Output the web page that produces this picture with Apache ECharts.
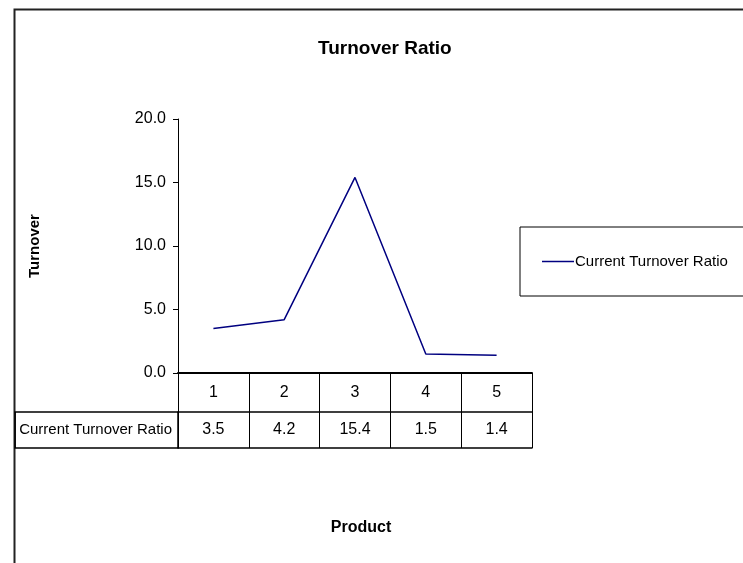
<!DOCTYPE html>
<html>
<head>
<meta charset="utf-8">
<script src="https://cdn.jsdelivr.net/npm/echarts@6/dist/echarts.min.js"></script>
<style>
  html, body { margin: 0; padding: 0; background: #fff; }
  #chart { width: 743px; height: 563px; }
</style>
</head>
<body>
<div id="chart"></div>
<script>
// chart data
const products = ['1', '2', '3', '4', '5'];
const turnoverRatio = [3.5, 4.2, 15.4, 1.5, 1.4];
const seriesName = 'Current Turnover Ratio';
const yTicks = { min: 0, max: 20, interval: 5 };

const font = 'Arial, "Liberation Sans", sans-serif';
const myChart = echarts.init(document.getElementById('chart'));

const option = {
    backgroundColor: '#fff',
    textStyle: { fontFamily: font, color: '#000' },
    title: {
        text: 'Turnover Ratio',
        left: 313,
        top: 34,
        textStyle: { fontFamily: font, fontSize: 19, fontWeight: 'bold', color: '#000' }
    },
    graphic: [
        {
            // outer chart frame
            type: 'rect',
            left: 12,
            top: 7,
            shape: { width: 800, height: 620 },
            style: { fill: 'none', stroke: '#222', lineWidth: 2 },
            silent: true
        }
    ],
    legend: {
        left: 520,
        top: 227,
        data: [seriesName],
        icon: 'rect',
        itemWidth: 32,
        itemHeight: 1.5,
        itemGap: 0,
        padding: [27, 60, 27, 22],
        borderColor: '#000',
        borderWidth: 1,
        borderRadius: 0,
        itemStyle: { color: '#000080' },
        textStyle: { fontFamily: font, fontSize: 15, color: '#000', padding: [0, 0, 0, -4] }
    },
    grid: {
        left: 178,
        right: 211,
        top: 119,
        bottom: 190
    },
    xAxis: [
        {
            // header row of the data table
            type: 'category',
            data: products,
            position: 'bottom',
            boundaryGap: true,
            axisLine: { lineStyle: { color: '#000', width: 2 } },
            axisTick: { show: true, length: 39, lineStyle: { color: '#000' } },
            axisLabel: { fontSize: 16, color: '#000', margin: 12 }
        },
        {
            // values row of the data table
            type: 'category',
            data: products,
            position: 'bottom',
            offset: 39,
            boundaryGap: true,
            axisLine: { lineStyle: { color: '#000', width: 1.5 } },
            axisTick: { show: true, length: 36, lineStyle: { color: '#000' } },
            axisLabel: {
                fontSize: 16,
                color: '#000',
                margin: 10,
                formatter: (v, i) => turnoverRatio[i].toFixed(1)
            },
            name: seriesName,
            nameLocation: 'start',
            nameGap: 0,
            nameTextStyle: {
                fontFamily: font,
                fontSize: 15,
                color: '#000',
                align: 'right',
                verticalAlign: 'top',
                width: 152,
                height: 36,
                lineHeight: 36,
                padding: [0, 6, 0, 4],
                borderColor: '#000',
                borderWidth: 1.5
            }
        },
        {
            // bottom line of the table + axis title
            type: 'category',
            data: products,
            position: 'bottom',
            offset: 75,
            axisLine: { lineStyle: { color: '#000', width: 1.5 } },
            axisTick: { show: false },
            axisLabel: { show: false },
            name: 'Product',
            nameLocation: 'middle',
            nameGap: 72,
            nameTextStyle: {
                fontFamily: font, fontSize: 16, fontWeight: 'bold', color: '#000',
                padding: [0, 0, 0, 12]
            }
        }
    ],
    yAxis: {
        type: 'value',
        min: yTicks.min,
        max: yTicks.max,
        interval: yTicks.interval,
        name: 'Turnover',
        nameLocation: 'middle',
        nameRotate: 90,
        nameGap: 136,
        nameTextStyle: { fontFamily: font, fontSize: 15, fontWeight: 'bold', color: '#000' },
        axisLine: { show: true, lineStyle: { color: '#000', width: 1 } },
        axisTick: { show: true, length: 5, lineStyle: { color: '#000' } },
        splitLine: { show: false },
        axisLabel: {
            fontSize: 16,
            color: '#000',
            margin: 12,
            formatter: v => v.toFixed(1)
        }
    },
    series: [
        {
            name: seriesName,
            type: 'line',
            xAxisIndex: 0,
            data: turnoverRatio,
            symbol: 'none',
            lineStyle: { color: '#000080', width: 1.5 },
            itemStyle: { color: '#000080' },
            animation: false
        }
    ]
};

myChart.setOption(option);

window.addEventListener('resize', () => {
    setTimeout(() => {
        myChart.resize();
    }, 10);
});
</script>
</body>
</html>
